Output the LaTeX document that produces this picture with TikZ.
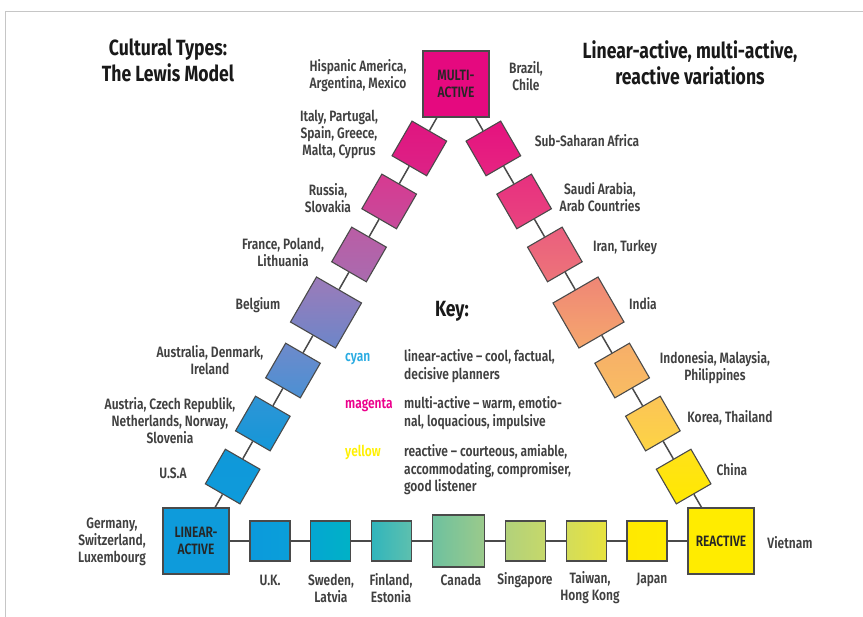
\documentclass[tikz,border=0pt]{standalone}
\usepackage{fontspec}
\setmainfont{Fira Sans}[FakeStretch=0.8,UprightFont=* SemiBold,BoldFont=* Bold]
\usetikzlibrary{calc}
\definecolor{linc}{HTML}{0E9BDB}
\definecolor{mulc}{HTML}{E5097F}
\definecolor{reac}{HTML}{FFEC00}
\definecolor{edgec}{HTML}{4A4A4A}
\definecolor{keycy}{HTML}{29ABE2}
\definecolor{keymg}{HTML}{EC008C}
\definecolor{keyye}{HTML}{FFF000}

\begin{document}
\begin{tikzpicture}[x=1pt,y=-1pt,
  box/.style={draw=edgec,line width=1.1pt,minimum size=#1,inner sep=0pt},
  corner/.style={box=66pt,font=\fontsize{15}{17}\selectfont,align=center,text=black!85},
  link/.style={draw=edgec,line width=1.5pt},
  lbl/.style={font=\fontsize{15}{17}\selectfont,align=center,text=black!75},
  ttl/.style={font=\fontsize{22}{26}\selectfont\bfseries,align=center,text=black!90}]
\useasboundingbox (0,0) rectangle (863,617);
\draw[gray!45,line width=1pt] (5,617) -- (5,12) -- (863,12);
\node[corner,fill=mulc] (ma) at (456,84) {MULTI-\\ACTIVE};
\node[corner,fill=linc] (la) at (196,541) {LINEAR-\\ACTIVE};
\node[corner,fill=reac] (ra) at (721,541) {REACTIVE};
\foreach \i/\t/\s/\ca/\cb in {1/.141/40/0E9BDB/1098D9,2/.257/40/1497D8/2E95D6,3/.373/40/4B90D3/6E8ACB,4/.5/52/6C86C9/9C7BB9,5/.627/40/A96BAF/BA5DA5,6/.743/40/C64B9B/D73A91,7/.859/40/DC2386/E01580}{\definecolor{ca}{HTML}{\ca}\definecolor{cb}{HTML}{\cb}\node[box=\s,rotate=60,bottom color=ca,top color=cb] (l\i) at ($(la)!\t!(ma)$) {};}
\foreach \i/\t/\s/\ca/\cb in {1/.141/40/E5127F/E62581,2/.257/40/E7307F/E9447F,3/.373/40/EA5E7E/ED7479,4/.5/52/EF8676/F5A76D,5/.627/40/F6AE69/F9BD62,6/.743/40/FBC457/FDD444,7/.859/40/FFE11A/FFE900}{\definecolor{ca}{HTML}{\ca}\definecolor{cb}{HTML}{\cb}\node[box=\s,rotate=-60,top color=ca,bottom color=cb] (r\i) at ($(ma)!\t!(ra)$) {};}
\foreach \i/\t/\s/\ca/\cb in {1/.141/40/0B9ADC/0A9FD9,2/.257/40/04A6D2/00B2C6,3/.373/40/31B5BC/5EC0AE,4/.5/52/6EC19F/9BCA8B,5/.627/40/B2D17B/C6D86A,6/.743/40/D3DC5A/E8E33E,7/.859/40/FFE900/FFEB00}{\definecolor{ca}{HTML}{\ca}\definecolor{cb}{HTML}{\cb}\node[box=\s,left color=ca,right color=cb] (b\i) at ($(la)!\t!(ra)$) {};}
\foreach \c/\a/\b in {l/la/ma,r/ma/ra,b/la/ra}{\draw[link] (\a) -- (\c1) -- (\c2) -- (\c3) -- (\c4) -- (\c5) -- (\c6) -- (\c7) -- (\b);}
\foreach \x/\y/\n/\s in {358/76/hisp/{Hispanic America,\\Argentina, Mexico},526/76/braz/{Brazil,\\Chile},339/134/ital/{Italy, Partugal,\\Spain, Greece,\\Malta, Cyprus},328/198/russ/{Russia,\\Slovakia},283/252/fran/{France, Poland,\\Lithuania},258/305/belg/{Belgium},210/360/aust/{Australia, Denmark,\\Ireland},170/421/czec/{Austria, Czech Republik,\\Netherlands, Norway,\\Slovenia},173/473/usa/{U.S.A},112/542/germ/{Germany,\\Switzerland,\\Luxembourg}}{\node[lbl] (\n) at (\x,\y) {\s};}
\foreach \x/\y/\n/\s in {587/141/subs/{Sub-Saharan Africa},600/197/saud/{Saudi Arabia,\\Arab Countries},625/247/iran/{Iran, Turkey},643/304/indi/{India},715/368/indo/{Indonesia, Malaysia,\\Philippines},730/418/kore/{Korea, Thailand},732/470/chin/{China},790/543/viet/{Vietnam}}{\node[lbl] (\n) at (\x,\y) {\s};}
\foreach \x/\y/\n/\s in {270/580/uk/{U.K.},331/588/swed/{Sweden,\\Latvia},391/588/finl/{Finland,\\Estonia},461/580/cana/{Canada},525/580/sing/{Singapore},590/588/taiw/{Taiwan,\\Hong Kong},652/580/japa/{Japan}}{\node[lbl] (\n) at (\x,\y) {\s};}
\node[ttl] (lewis) at (168,60) {Cultural Types:\\The Lewis Model};
\node[ttl] (vari) at (690,63) {Linear-active, multi-active,\\reactive variations};
\node[ttl] (key) at (452,311) {Key:};
\foreach \y/\n/\w/\c/\s in {349/cy/cyan/keycy/{linear-active – cool, factual,\\decisive planners},396/mg/magenta/keymg/{multi-active – warm, emotio-\\nal, loquacious, impulsive},444/ye/yellow/keyye/{reactive – courteous, amiable,\\accommodating, compromiser,\\good listener}}{\node[lbl,anchor=north west,inner sep=0pt,text=\c] (k\n) at (345,\y) {\strut\w};\node[lbl,anchor=north west,inner sep=0pt,align=left] (t\n) at (404,\y) {\strut\s};}
\end{tikzpicture}
\end{document}
